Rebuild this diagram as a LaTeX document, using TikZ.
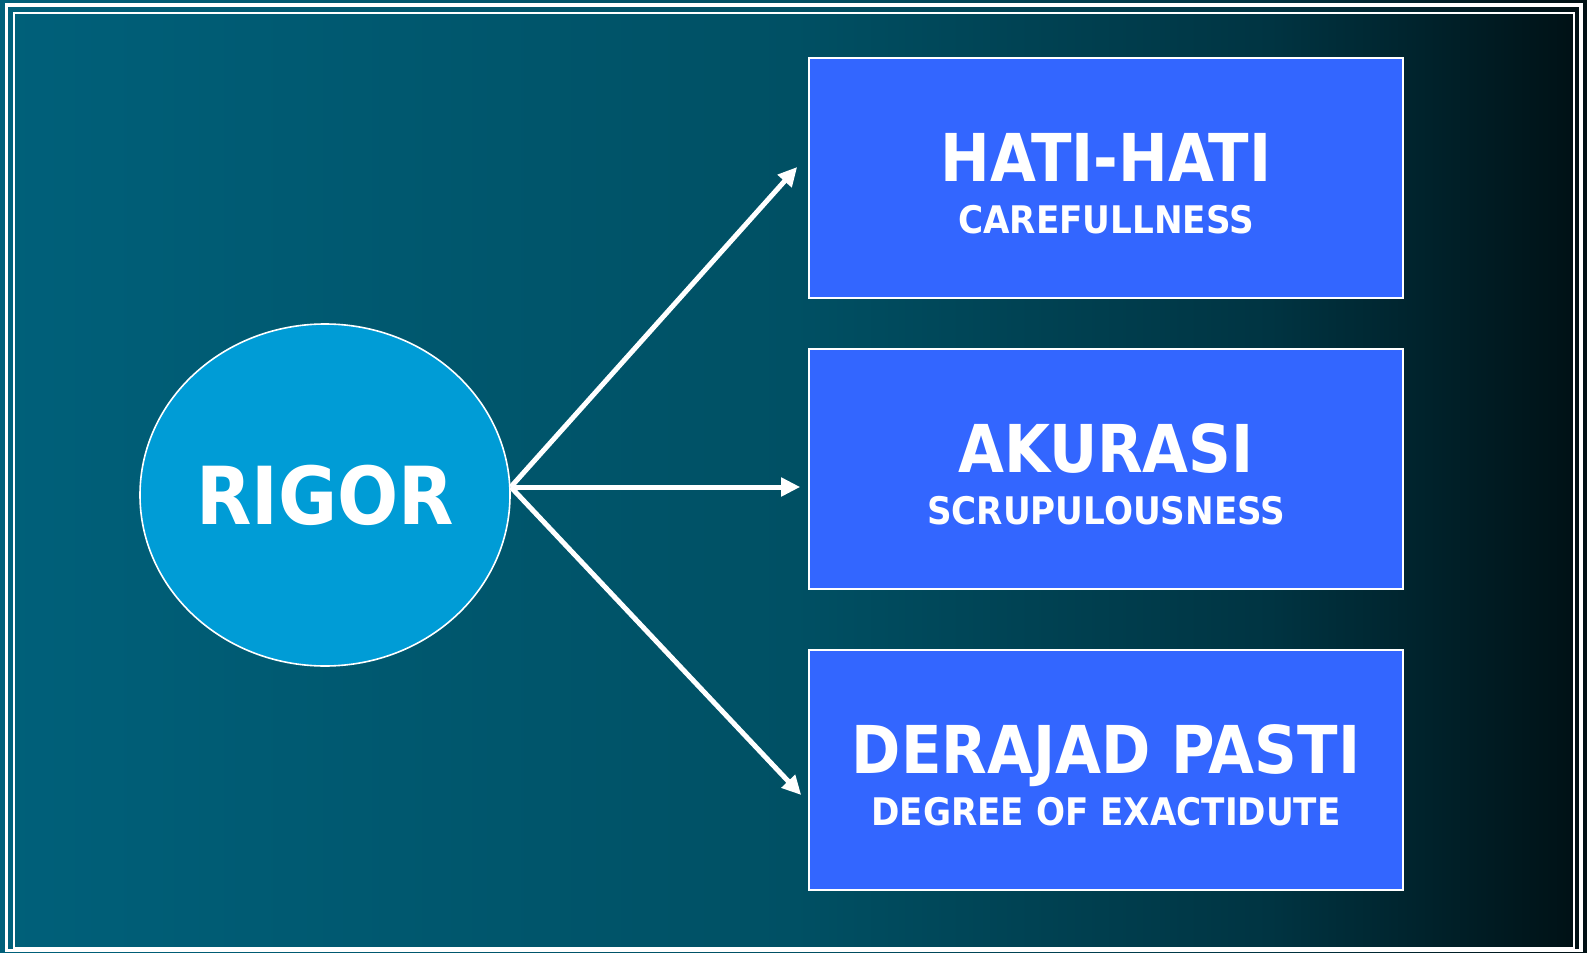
\documentclass[tikz,border=0pt]{standalone}
\usepackage{fontspec}
\setmainfont{DejaVu Sans Condensed}
\usetikzlibrary{arrows.meta,shapes.geometric}

\definecolor{bgleft}{RGB}{0,96,122}
\definecolor{bgmid}{RGB}{0,80,100}
\definecolor{bgdark}{RGB}{0,52,66}
\definecolor{bgend}{RGB}{0,16,20}
\definecolor{ballblue}{RGB}{0,156,214}
\definecolor{boxblue}{RGB}{51,102,255}

\pgfdeclarehorizontalshading{backdrop}{100bp}{color(0bp)=(bgleft); color(25bp)=(bgleft); color(50bp)=(bgmid); color(65bp)=(bgdark); color(75bp)=(bgend); color(100bp)=(bgend)}

% title line with fixed height and no depth
\newcommand\toptext[1]{\raisebox{0pt}[\dimexpr\height+5.5pt\relax][0pt]{\fontsize{33}{33}\selectfont #1}}
\newcommand\subtext[1]{{\fontsize{19}{19}\selectfont #1}}

\begin{document}
\begin{tikzpicture}[x=0.5pt,y=-0.5pt,
  every node/.style={text=white,font=\bfseries},
  topic/.style={draw=white,line width=0.8pt,fill=boxblue,minimum width=297pt,
    minimum height=120pt,align=center,inner sep=0pt},
  link/.style={draw=white,line width=2.5pt,-{Triangle[length=9.5pt,width=9pt]}}]
  \useasboundingbox (0,0) rectangle (1587,953);
  \shade[shading=backdrop] (0,0) rectangle (1587,953);
  % double frame
  \draw[white,line width=1.8pt] (6.5,5) rectangle (1581,950.5);
  \draw[white,line width=1pt] (13.5,12.5) rectangle (1574,947.5);

  \node (rigor) [ellipse,draw=white,line width=0.8pt,fill=ballblue,
    minimum width=185pt,minimum height=171pt,inner sep=0pt,
    font=\bfseries\fontsize{40}{40}\selectfont] at (325,495) {RIGOR};

  \node (hati) [topic] at (1106,178) {\toptext{HATI-HATI}\\[11pt]\subtext{CAREFULLNESS}};
  \node (akurasi) [topic] at (1106,469) {\toptext{AKURASI}\\[11pt]\subtext{SCRUPULOUSNESS}};
  \node (derajad) [topic] at (1106,770) {\toptext{DERAJAD PASTI}\\[11pt]\subtext{DEGREE OF EXACTIDUTE}};

  \draw[link] ([yshift=4pt]rigor.east) -- ([xshift=-5.5pt,yshift=5.5pt]hati.west);
  \draw[link] ([yshift=4pt]rigor.east) -- ([xshift=-4pt,yshift=-9pt]akurasi.west);
  \draw[link] ([yshift=4pt]rigor.east) -- ([xshift=-3.5pt,yshift=-12.5pt]derajad.west);
\end{tikzpicture}
\end{document}
